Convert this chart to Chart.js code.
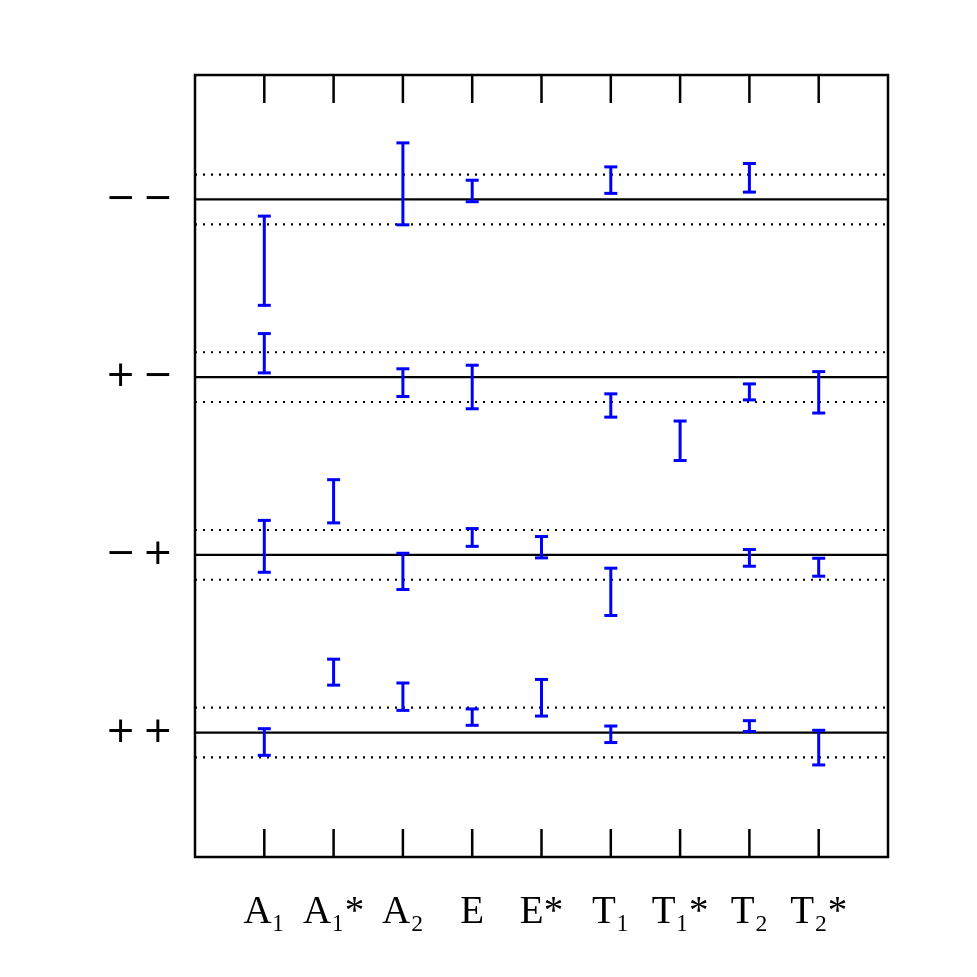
<!DOCTYPE html>
<html>
<head>
<meta charset="utf-8">
<script src="https://cdn.jsdelivr.net/npm/chart.js@4/dist/chart.umd.min.js"></script>
<style>
  html, body { margin: 0; padding: 0; background: #fff; }
  canvas { display: block; }
</style>
</head>
<body>
<canvas id="chart" width="977" height="977"></canvas>
<script>
// categories along the bottom
const categories = ['A₁', 'A₁*', 'A₂', 'E', 'E*', 'T₁', 'T₁*', 'T₂', 'T₂*'];
// rows (bottom to top)
const rowLabels = ['+\u2009+', '\u2212\u2009+', '+\u2009\u2212', '\u2212\u2009\u2212'];
const rowLevels = [1, 2, 3, 4];
const bandHalf = 0.14;

// error bars [low, high] per category, null = no point
const barsPP = [[0.872, 1.022], [1.267, 1.413], [1.125, 1.279], [1.041, 1.133], [1.093, 1.299], [0.944, 1.037], null, [1.006, 1.067], [0.818, 1.013]];
const barsMP = [[1.902, 2.194], [2.180, 2.423], [1.805, 2.009], [2.048, 2.148], [1.983, 2.103], [1.659, 1.925], null, [1.936, 2.030], [1.880, 1.981]];
const barsPM = [[3.024, 3.245], null, [2.891, 3.047], [2.822, 3.067], null, [2.775, 2.906], [2.531, 2.753], [2.872, 2.962], [2.798, 3.031]];
const barsMM = [[3.404, 3.906], null, [3.857, 4.318], [3.987, 4.108], null, [4.034, 4.183], null, [4.041, 4.202], null];

// build error bar points (stem between low and high, gap after each)
const errPoints = [];
[barsPP, barsMP, barsPM, barsMM].forEach(row => {
  row.forEach((b, i) => {
    if (!b) return;
    errPoints.push({ x: i + 1, y: b[0] }, { x: i + 1, y: b[1] }, { x: i + 1, y: null });
  });
});

const datasets = [{
  data: errPoints,
  showLine: true,
  spanGaps: false,
  borderColor: '#0000ff',
  borderWidth: 3,
  pointStyle: 'line',
  pointRadius: 6.5,
  pointBorderWidth: 3,
  pointBorderColor: '#0000ff',
  order: 0
}];

// solid row lines and dotted band lines
rowLevels.forEach(lv => {
  datasets.push({
    data: [{ x: 0, y: lv }, { x: 10, y: lv }],
    showLine: true, borderColor: '#000', borderWidth: 2.2, pointRadius: 0, order: 2
  });
  [-bandHalf, bandHalf].forEach(d => {
    datasets.push({
      data: [{ x: 0, y: lv + d }, { x: 10, y: lv + d }],
      showLine: true, borderColor: '#000', borderWidth: 2.2, borderDash: [2, 6],
      pointRadius: 0, order: 2
    });
  });
});

// frame + inner ticks at top and bottom
const framePlugin = {
  id: 'frame',
  afterDatasetsDraw(chart) {
    const { ctx, chartArea: a, scales } = chart;
    ctx.save();
    ctx.strokeStyle = '#000';
    ctx.lineWidth = 2.5;
    ctx.strokeRect(a.left, a.top, a.right - a.left, a.bottom - a.top);
    categories.forEach((c, i) => {
      const x = scales.x.getPixelForValue(i + 1);
      ctx.beginPath();
      ctx.moveTo(x, a.top); ctx.lineTo(x, a.top + 28);
      ctx.moveTo(x, a.bottom); ctx.lineTo(x, a.bottom - 28);
      ctx.stroke();
    });
    ctx.restore();
  }
};

new Chart(document.getElementById('chart'), {
  type: 'scatter',
  data: { datasets },
  options: {
    responsive: false,
    animation: false,
    layout: { padding: { top: 75, right: 89, left: 0, bottom: 0 } },
    plugins: { legend: { display: false }, tooltip: { enabled: false } },
    scales: {
      x: {
        type: 'linear', min: 0, max: 10,
        grid: { display: false },
        border: { display: false },
        afterBuildTicks: s => { s.ticks = categories.map((c, i) => ({ value: i + 1 })); },
        afterFit: s => { s.height = 120; },
        ticks: {
          autoSkip: false, maxRotation: 0, padding: 24,
          color: '#000',
          font: { family: 'Liberation Serif', size: 39 },
          callback: v => categories[v - 1]
        }
      },
      y: {
        type: 'linear', min: 0.3, max: 4.7,
        grid: { display: false },
        border: { display: false },
        afterBuildTicks: s => { s.ticks = rowLevels.map(v => ({ value: v })); },
        afterFit: s => { s.width = 195; },
        ticks: {
          padding: 14,
          color: '#000',
          font: { family: 'DejaVu Sans', size: 36 },
          callback: v => rowLabels[rowLevels.indexOf(v)]
        }
      }
    }
  },
  plugins: [framePlugin]
});
</script>
</body>
</html>
